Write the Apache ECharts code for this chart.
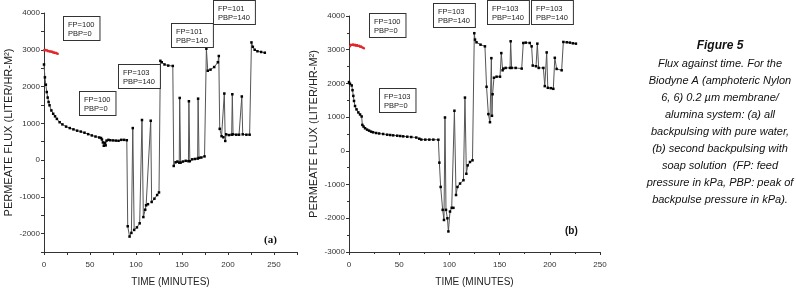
<!DOCTYPE html>
<html>
<head>
<meta charset="utf-8">
<script src="https://cdn.jsdelivr.net/npm/echarts@6/dist/echarts.min.js"></script>
<style>
  html, body { margin: 0; padding: 0; background: #fff; }
  #chart { width: 796px; height: 292px; }
</style>
</head>
<body>
<div id="chart"></div>
<script>
// (a) all backpulsing with pure water -- [time (min), flux]
const fluxA = [
  [0, 2600], [1, 2250], [2, 2050], [3, 1850], [4, 1700], [5, 1580], [6, 1490], [8, 1350],
  [10, 1260], [12, 1190], [14, 1120], [17, 1030], [20, 970], [24, 910], [28, 870], [32, 835],
  [36, 800], [40, 775], [44, 745], [48, 705], [52, 670], [56, 640], [60, 615], [62, 600],
  [63, 560], [64, 480], [65, 390], [66, 470], [67, 400], [68, 530], [70, 550], [72, 540],
  [75, 535], [78, 530], [81, 525], [84, 550], [87, 550], [90, 540],
  [91, -1800], [93, -2080], [95, -1980], [96.5, 870], [98, -1900], [101, -1830], [104, -1720],
  [106.5, 1090], [108, -1550], [110, -1350], [111, -1230], [113, -1200], [116, 1070], [117, -1140],
  [120, -1050], [123, -950], [125, -880],
  [126.5, 2700], [128, 2660], [131, 2600], [135, 2570], [140, 2560],
  [141, -160], [143, -60], [145, -40], [147, -70], [147.5, 1690], [148.5, -70], [151, -40],
  [154, -20], [157, -30], [157.5, 1600], [158.5, -30], [161, 20], [164, 30], [167, 40],
  [167.5, 1670], [168.5, 60], [171, 70], [174.5, 100],
  [176.5, 3030], [178, 2430], [181, 2460], [185, 2530], [189, 2660], [190, 2830],
  [191, 850], [193, 650], [195, 620], [196, 1810], [197, 520], [198, 700], [201, 680],
  [204, 690], [204.7, 1790], [205.5, 700], [209, 690], [212, 690], [215, 1730], [216, 700],
  [220, 690], [223.5, 690],
  [225.5, 3200], [227, 3080], [229, 3000], [232, 2960], [236, 2940], [240, 2920]
];
const waterA = [
  [0, 2990], [1, 3000], [2, 2980], [3, 2990], [4, 2960], [5, 2970], [6, 2950], [7, 2960],
  [8, 2940], [9, 2950], [10, 2920], [11, 2930], [12, 2910], [13, 2920], [14, 2900], [15, 2890]
];

// (b) second backpulsing with soap solution
const fluxB = [
  [0, 2040], [1, 1990], [2.7, 1940], [3.5, 1800], [4.3, 1630], [5, 1480], [6, 1330], [7.5, 1230],
  [9.3, 1140], [11, 1080], [12.6, 1020], [13.3, 770], [14.5, 720], [16, 670], [18, 630], [20, 600],
  [22, 570], [24, 550], [27, 530], [30, 515], [34, 500], [38, 480], [41, 470], [44, 460],
  [48, 450], [51, 440], [54, 430], [58, 420], [62, 410], [67, 395], [70, 360], [72, 335],
  [76, 333], [80, 333], [84, 333], [89, 330],
  [90, -350], [91.3, -1070], [93.3, -1750], [94.6, -2050], [95.6, 990], [96.6, -1750], [98, -2000],
  [99, -2390], [100.6, -1800], [102.3, -1690], [104, -1690], [105, 1190], [106.6, -1310],
  [108, -1070], [110.6, -970], [114, -870], [115.5, 1580], [116.9, -680], [118.2, -430],
  [120.5, -330], [123, -280],
  [124.8, 3490], [125.5, 3300], [127, 3220], [131, 3150], [135.4, 3100],
  [137, 1900], [138.8, 1090], [140.4, 850], [141.8, 2750], [142.4, 1040], [143, 1680],
  [144.4, 2170], [147, 2200], [150.4, 2200], [151.7, 2900], [153, 2390], [153.7, 2440],
  [156, 2460], [160.4, 2460], [161, 3250], [162, 2460], [166, 2460], [172, 2440],
  [173.6, 3200], [176, 3210], [180, 3200], [181.9, 3100], [183, 2530], [186.3, 2510],
  [187.6, 3180], [188.9, 2460], [193.6, 2460], [195, 1920], [196.9, 2920], [198, 1870],
  [201, 1860], [203.5, 1840], [205, 2760], [206.8, 2430], [211.8, 2390],
  [213.5, 3230], [217, 3220], [220, 3210], [223, 3190], [226, 3180]
];
const waterB = [
  [1, 3100], [2, 3150], [3, 3140], [4, 3160], [5, 3130], [6, 3150], [7, 3120], [8, 3140],
  [9, 3110], [10, 3120], [11, 3090], [12, 3100], [13, 3070], [14, 3060], [15, 3040]
];

const notes = [
  { text: "FP=100\nPBP=0", x: 63, y: 16 },
  { text: "FP=100\nPBP=0", x: 79, y: 91 },
  { text: "FP=103\nPBP=140", x: 118, y: 64 },
  { text: "FP=101\nPBP=140", x: 171, y: 23 },
  { text: "FP=101\nPBP=140", x: 213, y: 0 },
  { text: "FP=100\nPBP=0", x: 369, y: 13 },
  { text: "FP=103\nPBP=0", x: 379, y: 88 },
  { text: "FP=103\nPBP=140", x: 433, y: 3 },
  { text: "FP=103\nPBP=140", x: 487, y: 0 },
  { text: "FP=103\nPBP=140", x: 531, y: 0 }
];

const captionTitle = "Figure 5";
const captionLines = [
  "Flux against time. For the",
  "Biodyne A (amphoteric Nylon",
  "6, 6) 0.2 µm membrane/",
  "alumina system: (a) all",
  "backpulsing with pure water,",
  "(b) second backpulsing with",
  "soap solution  (FP: feed",
  "pressure in kPa, PBP: peak of",
  "backpulse pressure in kPa)."
];

const font = "Liberation Sans, Arial, sans-serif";
const axisColor = "#333";

function xAxisOpt(gridIndex, max, interval) {
  return {
    type: "value",
    gridIndex,
    min: 0,
    max,
    interval,
    name: "TIME (MINUTES)",
    nameLocation: "middle",
    nameGap: 25,
    nameTextStyle: { fontFamily: font, fontSize: 10, color: "#222" },
    axisLine: { show: true, onZero: false, lineStyle: { color: axisColor, width: 1 } },
    axisTick: { show: true, length: 3, lineStyle: { color: axisColor } },
    minorTick: { show: interval === 50, splitNumber: 2, length: 2, lineStyle: { color: axisColor } },
    splitLine: { show: false },
    axisLabel: {
      fontFamily: font, fontSize: 8, color: "#333", margin: 9,
      formatter: (v) => (v % 50 === 0 ? String(v) : "")
    }
  };
}

function yAxisOpt(gridIndex, min, max, interval) {
  return {
    type: "value",
    gridIndex,
    min,
    max,
    interval,
    name: "PERMEATE FLUX (LITER/HR-M²)",
    nameLocation: "middle",
    nameGap: 30,
    nameTextStyle: { fontFamily: font, fontSize: 11, color: "#222" },
    axisLine: { show: true, onZero: false, lineStyle: { color: axisColor, width: 1 } },
    axisTick: { show: true, length: 3, lineStyle: { color: axisColor } },
    minorTick: { show: interval === 1000, splitNumber: 2, length: 2, lineStyle: { color: axisColor } },
    splitLine: { show: false },
    axisLabel: {
      fontFamily: font, fontSize: 8, color: "#333", margin: 4,
      formatter: (v) => (v % 1000 === 0 ? String(v) : "")
    }
  };
}

function fluxSeries(data, idx) {
  return {
    type: "line",
    xAxisIndex: idx,
    yAxisIndex: idx,
    data,
    symbol: "rect",
    symbolSize: 2.5,
    showSymbol: true,
    animation: false,
    lineStyle: { color: "#555", width: 1 },
    itemStyle: { color: "#000" }
  };
}

function waterSeries(data, idx) {
  return {
    type: "line",
    xAxisIndex: idx,
    yAxisIndex: idx,
    data,
    symbol: "rect",
    symbolSize: 2,
    animation: false,
    lineStyle: { color: "#e0282c", width: 1.5 },
    itemStyle: { color: "#e0282c" }
  };
}

const graphics = notes.map((n) => ({
  type: "text",
  left: n.x,
  top: n.y,
  z: 10,
  style: {
    text: n.text,
    font: "7.5px " + font,
    fill: "#222",
    lineHeight: 9,
    backgroundColor: "#fff",
    borderColor: "#333",
    borderWidth: 1,
    padding: [3, 5, 2, 4]
  }
}));

graphics.push(
  { type: "text", left: 264, top: 235, style: { text: "(a)", font: "bold 11px Liberation Serif, serif", fill: "#111" } },
  { type: "text", left: 565, top: 226, style: { text: "(b)", font: "bold 10px " + font, fill: "#111" } },
  {
    type: "text", x: 720, y: 40,
    style: { text: captionTitle, font: "italic bold 12px " + font, fill: "#111", align: "center", verticalAlign: "top" }
  },
  {
    type: "text", x: 720, y: 55,
    style: {
      text: captionLines.join("\n"), font: "italic 11px " + font, fill: "#111",
      align: "center", verticalAlign: "top", lineHeight: 17
    }
  }
);

const chart = echarts.init(document.getElementById("chart"), null, { renderer: "canvas" });
chart.setOption({
  backgroundColor: "#fff",
  animation: false,
  grid: [
    { left: 44, top: 13, width: 253, height: 242 },
    { left: 349, top: 16, width: 251, height: 238 }
  ],
  xAxis: [xAxisOpt(0, 275, 25), xAxisOpt(1, 250, 50)],
  yAxis: [yAxisOpt(0, -2500, 4000, 500), yAxisOpt(1, -3000, 4000, 1000)],
  series: [
    fluxSeries(fluxA, 0),
    waterSeries(waterA, 0),
    fluxSeries(fluxB, 1),
    waterSeries(waterB, 1)
  ],
  graphic: graphics
});
</script>
</body>
</html>
